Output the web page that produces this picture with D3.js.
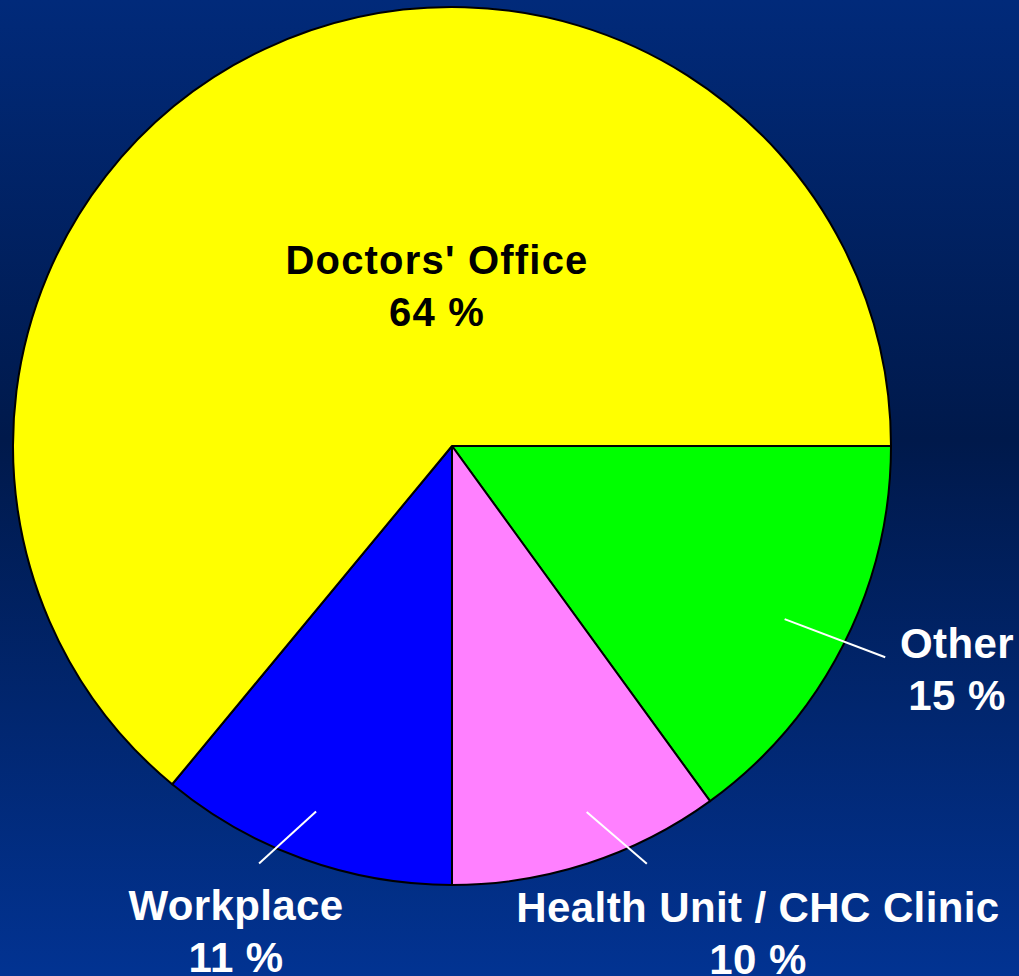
<!DOCTYPE html>
<html>
<head>
<meta charset="utf-8">
<script src="https://cdn.jsdelivr.net/npm/d3@7"></script>
<style>
  html, body { margin: 0; padding: 0; background: #001a4e; }
  svg { display: block; }
  text { font-family: "Liberation Sans", Arial, sans-serif; font-weight: bold; }
</style>
</head>
<body>
<svg id="chart" width="1019" height="976"></svg>
<script>
// slices go clockwise from 3 o'clock
const categories = ["Other", "Health Unit / CHC Clinic", "Workplace", "Doctors' Office"];
const percents = [15, 10, 11, 64];
const colors = ["#00ff00", "#ff80ff", "#0000ff", "#ffff00"];

const width = 1019, height = 976;
const cx = 452, cy = 446, radius = 439;

// label placement, relative to the pie centre (angles in degrees off the slice middle)
const labelLayout = [
    { dx: 505, dy: 212, fill: "#fff", size: 42, spacing: 0.4, leader: { da1: 0.5, r1: 375, da2: -1, r2: 482 } },
    { dx: 306, dy: 476, fill: "#fff", size: 42, spacing: 0.4, leader: { da1: -2.2, r1: 390, da2: -7, r2: 461 } },
    { dx: -216, dy: 474, fill: "#fff", size: 42, spacing: 0.4, leader: { da1: 0.6, r1: 390, da2: 5, r2: 460 } },
    { dx: -15, dy: -172, fill: "#000", size: 40, spacing: 1.2, leader: null }
];

const svg = d3.select("#chart");

// background gradient
const defs = svg.append("defs");
const grad = defs.append("linearGradient")
    .attr("id", "bg")
    .attr("x1", 0).attr("y1", 0).attr("x2", 0).attr("y2", 1);
grad.append("stop").attr("offset", "0%").attr("stop-color", "#012a7a");
grad.append("stop").attr("offset", "45%").attr("stop-color", "#00194b");
grad.append("stop").attr("offset", "100%").attr("stop-color", "#023392");

svg.append("rect")
    .attr("width", width)
    .attr("height", height)
    .attr("fill", "url(#bg)");

const data = categories.map((c, i) => ({ name: c, value: percents[i], color: colors[i] }));

const pie = d3.pie()
    .sort(null)
    .value(d => d.value)
    .startAngle(Math.PI / 2)
    .endAngle(Math.PI / 2 + 2 * Math.PI);

const arc = d3.arc().innerRadius(0).outerRadius(radius);
const arcs = pie(data);

const g = svg.append("g").attr("transform", `translate(${cx},${cy})`);

g.selectAll("path.slice")
    .data(arcs)
    .enter().append("path")
    .attr("class", "slice")
    .attr("d", arc)
    .attr("fill", d => d.data.color)
    .attr("stroke", "#000")
    .attr("stroke-width", 2)
    .attr("stroke-linejoin", "round");

// polar -> xy, angle measured clockwise from 12 o'clock
function polar(a, r) {
    return [Math.sin(a) * r, -Math.cos(a) * r];
}

const deg = Math.PI / 180;

arcs.forEach((d, i) => {
    const lay = labelLayout[i];
    const mid = (d.startAngle + d.endAngle) / 2;

    if (lay.leader) {
        const p1 = polar(mid + lay.leader.da1 * deg, lay.leader.r1);
        const p2 = polar(mid + lay.leader.da2 * deg, lay.leader.r2);
        g.append("line")
            .attr("x1", p1[0]).attr("y1", p1[1])
            .attr("x2", p2[0]).attr("y2", p2[1])
            .attr("stroke", "#fff")
            .attr("stroke-width", 2);
    }

    const t = g.append("text")
        .attr("x", lay.dx)
        .attr("y", lay.dy)
        .attr("text-anchor", "middle")
        .attr("fill", lay.fill)
        .style("font-size", lay.size + "px")
        .style("letter-spacing", lay.spacing + "px");
    t.append("tspan").attr("x", lay.dx).attr("dy", 0).text(d.data.name);
    t.append("tspan").attr("x", lay.dx).attr("dy", 52).text(d.data.value + " %");
});
</script>
</body>
</html>
